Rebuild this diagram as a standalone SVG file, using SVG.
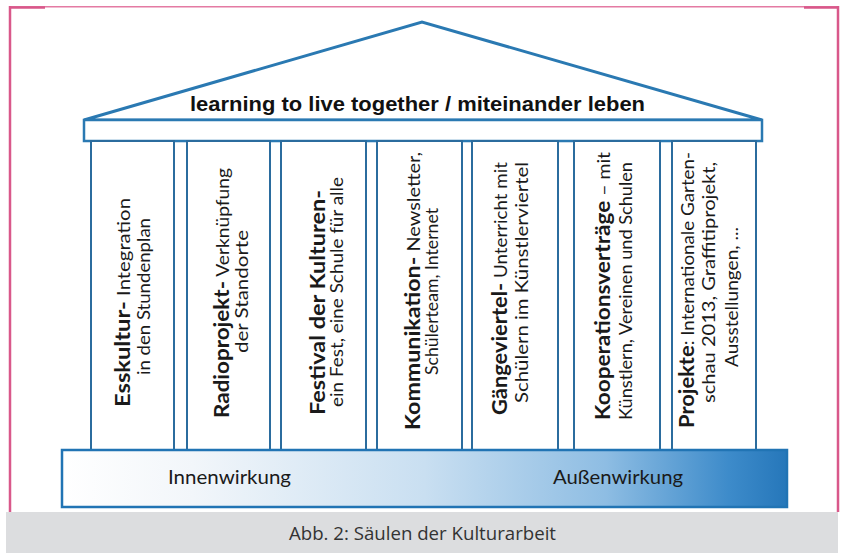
<svg xmlns="http://www.w3.org/2000/svg" width="842" height="553" viewBox="0 0 842 553">
  <style>
    .frame { stroke: #e47aa3; stroke-width: 1.5; fill: none; }
    .frame-dark { stroke: #d9588a; stroke-width: 2.5; fill: none; }
    .roof { fill: #ffffff; stroke: #2a79b2; stroke-width: 3; stroke-linejoin: miter; }
    .beam { fill: #ffffff; stroke: #2a79b2; stroke-width: 2.5; }
    .pillar { fill: #ffffff; stroke: #2b6c9e; stroke-width: 2; }
    .base { fill: url(#baseFill); stroke: #2174b4; stroke-width: 2.5; }
    .motto { font-family: "Liberation Sans", Arial, sans-serif; font-weight: 700; font-size: 21px; fill: #111111; }
    .t { font-family: Lato, "Open Sans", sans-serif; font-size: 18px; fill: #1a1a1a; }
    .b { font-weight: 700; font-size: 21px; }
    .lbl { font-family: Lato, "Open Sans", sans-serif; font-size: 20px; fill: #1a1a1a; }
    .cap { font-family: "Open Sans", Lato, sans-serif; font-size: 19px; fill: #333333; }
  </style>
  <defs>
    <linearGradient id="baseFill" x1="0" y1="0" x2="1" y2="0">
      <stop offset="0" stop-color="#ffffff"/>
      <stop offset="0.18" stop-color="#f2f6fa"/>
      <stop offset="0.5" stop-color="#c9dff1"/>
      <stop offset="0.75" stop-color="#8ebde3"/>
      <stop offset="0.92" stop-color="#3d8bca"/>
      <stop offset="1" stop-color="#2677ba"/>
    </linearGradient>
  </defs>

  <!-- page frame -->
  <g id="frame">
    <line class="frame" x1="10" y1="6.75" x2="838" y2="6.75"/>
    <line class="frame-dark" x1="10" y1="7.5" x2="45" y2="7.5"/>
    <line class="frame-dark" x1="804" y1="7.5" x2="838" y2="7.5"/>
    <line class="frame-dark" x1="10" y1="6" x2="10" y2="512"/>
    <line class="frame-dark" x1="838" y1="6" x2="838" y2="512"/>
  </g>

  <!-- pediment and beam -->
  <g id="roof">
    <polygon class="roof" points="84,120 422,22 762,120"/>
    <text class="motto" x="190" y="111" textLength="455" lengthAdjust="spacingAndGlyphs">learning to live together / miteinander leben</text>
  </g>
  <g id="beam">
    <rect class="beam" x="84" y="120" width="678" height="21"/>
  </g>

  <!-- pillars -->
  <g id="pillar-esskultur">
    <rect class="pillar" x="91" y="141" width="83" height="309"/>
    <text class="t" transform="translate(130,407) rotate(-90)" textLength="209" lengthAdjust="spacingAndGlyphs"><tspan class="b">Esskultur-</tspan> Integration</text>
    <text class="t" transform="translate(150,375) rotate(-90)" textLength="157" lengthAdjust="spacingAndGlyphs">in den Stundenplan</text>
  </g>
  <g id="pillar-radioprojekt">
    <rect class="pillar" x="187" y="141" width="83" height="309"/>
    <text class="t" transform="translate(229,418) rotate(-90)" textLength="250" lengthAdjust="spacingAndGlyphs"><tspan class="b">Radioprojekt-</tspan> Verknüpfung</text>
    <text class="t" transform="translate(248,353) rotate(-90)" textLength="123" lengthAdjust="spacingAndGlyphs">der Standorte</text>
  </g>
  <g id="pillar-festival">
    <rect class="pillar" x="281" y="141" width="85" height="309"/>
    <text class="t" transform="translate(325,415) rotate(-90)" textLength="225" lengthAdjust="spacingAndGlyphs"><tspan class="b">Festival der Kulturen-</tspan></text>
    <text class="t" transform="translate(343,407) rotate(-90)" textLength="230" lengthAdjust="spacingAndGlyphs">ein Fest, eine Schule für alle</text>
  </g>
  <g id="pillar-kommunikation">
    <rect class="pillar" x="377" y="141" width="85" height="309"/>
    <text class="t" transform="translate(420,430) rotate(-90)" textLength="278" lengthAdjust="spacingAndGlyphs"><tspan class="b">Kommunikation-</tspan> Newsletter,</text>
    <text class="t" transform="translate(438,375) rotate(-90)" textLength="167" lengthAdjust="spacingAndGlyphs">Schülerteam, Internet</text>
  </g>
  <g id="pillar-gaengeviertel">
    <rect class="pillar" x="472" y="141" width="86" height="309"/>
    <text class="t" transform="translate(507,415) rotate(-90)" textLength="253" lengthAdjust="spacingAndGlyphs"><tspan class="b">Gängeviertel-</tspan> Unterricht mit</text>
    <text class="t" transform="translate(528,403) rotate(-90)" textLength="241" lengthAdjust="spacingAndGlyphs">Schülern im Künstlerviertel</text>
  </g>
  <g id="pillar-kooperation">
    <rect class="pillar" x="574" y="141" width="86" height="309"/>
    <text class="t" transform="translate(610,420) rotate(-90)" textLength="268" lengthAdjust="spacingAndGlyphs"><tspan class="b">Kooperationsverträge</tspan> – mit</text>
    <text class="t" transform="translate(632,420) rotate(-90)" textLength="258" lengthAdjust="spacingAndGlyphs">Künstlern, Vereinen und Schulen</text>
  </g>
  <g id="pillar-projekte">
    <rect class="pillar" x="672" y="141" width="84" height="309"/>
    <text class="t" transform="translate(694,428) rotate(-90)" textLength="276" lengthAdjust="spacingAndGlyphs"><tspan class="b">Projekte</tspan>: Internationale Garten-</text>
    <text class="t" transform="translate(715,403) rotate(-90)" textLength="241" lengthAdjust="spacingAndGlyphs">schau 2013, Graffitiprojekt,</text>
    <text class="t" transform="translate(738,367) rotate(-90)" textLength="140" lengthAdjust="spacingAndGlyphs">Ausstellungen, ...</text>
  </g>

  <!-- foundation -->
  <g id="foundation">
    <rect class="base" x="62" y="450" width="725" height="57"/>
    <text class="lbl" x="168" y="484" textLength="123" lengthAdjust="spacingAndGlyphs">Innenwirkung</text>
    <text class="lbl" x="553" y="484" textLength="130" lengthAdjust="spacingAndGlyphs">Außenwirkung</text>
  </g>

  <!-- caption band -->
  <g id="caption">
    <rect x="6" y="512" width="832" height="41" fill="#dcdddf"/>
    <text class="cap" x="289" y="540" textLength="267" lengthAdjust="spacingAndGlyphs">Abb. 2: Säulen der Kulturarbeit</text>
  </g>
</svg>
